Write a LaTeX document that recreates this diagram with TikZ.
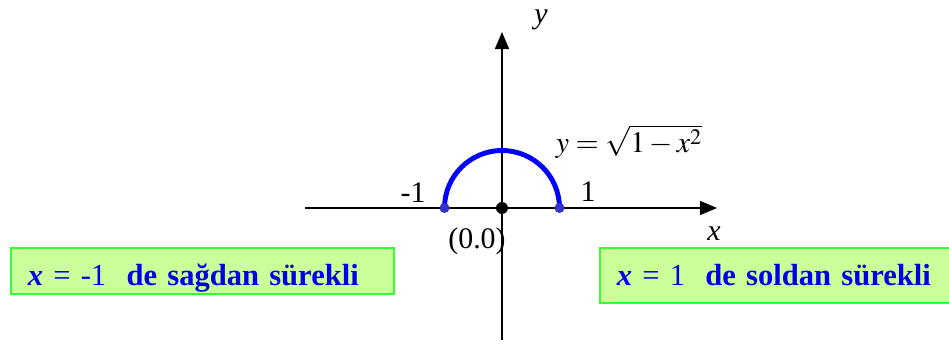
\documentclass[tikz,border=0pt]{standalone}
\usepackage{mathptmx}
\usepackage{fontspec}
\setmainfont{Liberation Serif}
\usetikzlibrary{arrows.meta,positioning}
\definecolor{boxfill}{RGB}{204,255,153}
\definecolor{boxline}{RGB}{51,255,51}
\definecolor{textblue}{RGB}{0,0,230}
\definecolor{arcblue}{RGB}{0,0,255}
\definecolor{dotblue}{RGB}{51,51,204}

\begin{document}
\begin{tikzpicture}[>={Triangle[length=0.34cm,width=0.28cm]},every node/.style={font=\fontsize{17}{20}\selectfont},
  infobox/.style={draw=boxline,fill=boxfill,line width=1pt,anchor=north west,inner ysep=0pt,inner xsep=0.34cm,
    align=left,text height=0.76cm,text=textblue,font=\fontsize{17.4}{21}\selectfont\bfseries}]
\useasboundingbox (-10.04,-2.82) rectangle (8.94,4.16);
\coordinate (O) at (0,0);
\coordinate (xstart) at (-3.94,0);
\coordinate (xend) at (4.3,0);
\coordinate (ystart) at (0,-2.64);
\coordinate (yend) at (0,3.52);
\coordinate (lft) at (-1.15,0);
\coordinate (rgt) at (1.15,0);
% axes
\draw[->,line width=0.85pt] (xstart) -- (xend);
\draw[->,line width=0.85pt] (ystart) -- (yend);
\node (xlabel) at (4.24,-0.52) {\itshape x};
\node (ylabel) at (0.78,3.76) {\itshape y};
% half circle
\draw[arcblue,line width=2.8pt] (lft) arc[start angle=180,end angle=0,radius=1.15];
\foreach \p in {lft,rgt} \fill[dotblue] (\p) circle (0.1);
\fill (O) circle (0.12);
\node (mone) at (-1.78,0.3) {-1};
\node (one) at (1.72,0.32) {1};
\node (orig) at (-0.5,-0.66) {(0.0)};
\node (eq) at (2.54,1.32) {$y=\sqrt{1-x^2}$};
% boxes
\node[infobox,text width=6.98cm,text depth=0.16cm] (leftbox) at (-9.84,-0.78) {{\itshape x} {\mdseries = -1}\ \ de sağdan sürekli};
\node[infobox,text width=6.5cm,text depth=0.34cm] (rightbox) at (1.94,-0.78) {{\itshape x} {\mdseries = 1}\ \ de soldan sürekli};
\end{tikzpicture}
\end{document}
